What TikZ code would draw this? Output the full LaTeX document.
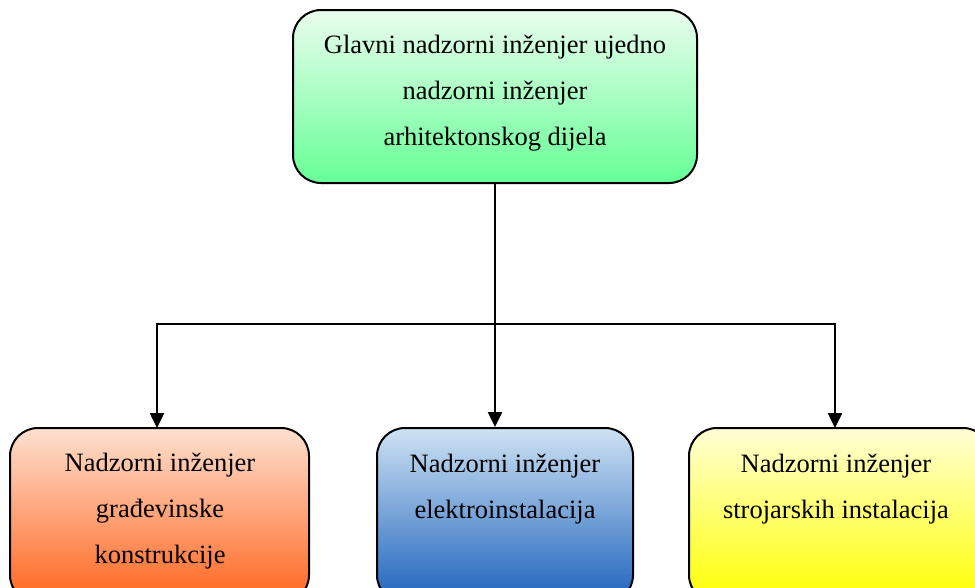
\documentclass[tikz,border=0pt]{standalone}
\usepackage{fontspec}
\setmainfont{Liberation Serif}
\usetikzlibrary{arrows.meta}
\definecolor{greenTop}{RGB}{234,253,238}
\definecolor{greenBot}{RGB}{102,255,150}
\definecolor{orangeTop}{RGB}{253,224,208}
\definecolor{orangeBot}{RGB}{255,100,28}
\definecolor{blueTop}{RGB}{206,226,243}
\definecolor{blueBot}{RGB}{28,98,188}
\definecolor{yellowTop}{RGB}{255,255,214}
\definecolor{yellowBot}{RGB}{255,255,0}
\tikzset{
  box/.style={draw=black, line width=2pt, rounded corners=28pt, inner sep=0pt},
  lbl/.style={anchor=base, align=center, inner sep=0pt,
    font=\fontsize{26.5}{46}\selectfont},
  link/.style={line width=2.5pt},
  arrowlink/.style={line width=2.5pt, -{Triangle[width=14pt,length=15pt]}},
}
\begin{document}
\begin{tikzpicture}[x=1pt,y=-1pt]
  \useasboundingbox[fill=white] (0,0) rectangle (975,587);
  \clip (0,0) rectangle (975,587);

  % boxes
  \node[box, top color=greenTop, bottom color=greenBot,
        minimum width=404pt, minimum height=173pt] (chief) at (495,96.5) {};
  \node[box, top color=orangeTop, bottom color=orangeBot,
        minimum width=299pt, minimum height=175pt] (civ) at (159.5,515.5) {};
  \node[box, top color=blueTop, bottom color=blueBot,
        minimum width=256pt, minimum height=175pt] (ele) at (505,515.5) {};
  \node[box, top color=yellowTop, bottom color=yellowBot,
        minimum width=302pt, minimum height=175pt] (mech) at (840,515.5) {};

  % labels (anchored at the baseline of their last line)
  \node[lbl] (chiefTxt) at (495,145) {Glavni nadzorni inženjer ujedno\\nadzorni inženjer\\arhitektonskog dijela};
  \node[lbl] (civTxt) at (160,563) {Nadzorni inženjer\\građevinske\\konstrukcije};
  \node[lbl] (eleTxt) at (505,518) {Nadzorni inženjer\\elektroinstalacija};
  \node[lbl] (mechTxt) at (836,518) {Nadzorni inženjer\\strojarskih instalacija};

  % connectors
  \coordinate (split) at (495,324);
  \coordinate (civIn) at (157,428);
  \coordinate (mechIn) at (835,428);
  \draw[link] (chief.south) -- (split);
  \draw[arrowlink] (split) -| (civIn);
  \draw[arrowlink] (split) -| (mechIn);
  \draw[arrowlink] (split) -- (split |- ele.north);
\end{tikzpicture}
\end{document}
